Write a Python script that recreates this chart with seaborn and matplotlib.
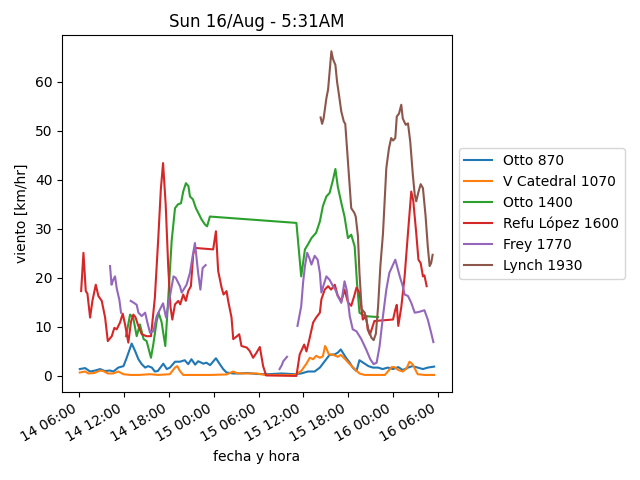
import pandas as pd
import numpy as np
import matplotlib
matplotlib.use('Agg')
import matplotlib.pyplot as plt
import matplotlib.dates as mdates
import seaborn as sns

# horas desde el 14/Aug 06:00 y viento en km/hr
inicio = pd.Timestamp('2020-08-14 06:00')

otto870_h = [0.05, 0.76, 1.43, 2.1, 2.77, 3.4, 4.1, 4.55, 5.2, 5.9, 6.33, 7.0, 7.45, 7.9, 8.34, 8.8,
             9.2, 9.7, 10.1, 10.5, 11.23, 11.7, 12.13, 12.8, 13.46, 14.1, 14.57, 15.0, 15.5, 15.9, 16.6,
             17.0, 17.5, 18.28, 18.8, 19.25, 19.7, 20.6, 21.5, 22.5, 23.7, 25.3, 27.1, 28.8, 29.7, 30.6,
             31.5, 32.2, 32.85, 33.5, 34.2, 34.6, 35.0, 35.7, 36.2, 36.6, 37.1, 37.5, 38.0, 38.7, 39.3,
             40.0, 40.6, 41.3, 42.0, 42.7, 43.3, 44.0, 44.6, 45.3, 46.0, 46.65, 47.5]
otto870_v = [1.4, 1.6, 0.9, 1.1, 1.4, 1.0, 1.1, 0.9, 1.7, 2.0, 3.7, 6.6, 5.1, 3.4, 2.4, 1.7,
             2.0, 1.7, 0.9, 1.0, 2.5, 1.4, 1.7, 2.9, 2.9, 3.2, 2.4, 3.4, 2.3, 3.0, 2.5,
             2.7, 2.2, 3.6, 2.4, 1.4, 0.7, 0.5, 0.5, 0.6, 0.4, 0.35, 0.5, 0.35, 0.5, 0.9,
             0.9, 1.7, 3.0, 4.3, 4.4, 4.75, 5.4, 3.7, 2.7, 1.7, 1.0, 3.2, 2.7, 2.0, 1.7,
             1.7, 1.4, 1.7, 1.4, 1.8, 1.2, 1.7, 2.0, 1.7, 1.4, 1.7, 1.9]

catedral_h = [0.05, 0.76, 1.2, 2.0, 2.77, 3.2, 3.8, 4.5, 5.2, 5.9, 6.8, 8.0, 9.45, 10.5, 12.1, 12.8,
              13.1, 13.46, 13.9, 15.5, 17.5, 19.7, 20.6, 21.0, 21.9, 23.7, 24.9, 27.0, 28.8, 29.7,
              30.4, 30.85, 31.3, 31.7, 32.2, 32.6, 32.9, 33.1, 33.4, 34.0, 34.6, 35.0, 35.6, 36.2,
              36.86, 37.5, 38.2, 40.9, 41.3, 41.8, 42.2, 42.7, 43.3, 43.8, 44.2, 44.6, 45.3, 46.2, 47.5]
catedral_v = [0.7, 0.9, 0.5, 0.6, 1.1, 1.0, 0.5, 0.5, 0.9, 0.35, 0.2, 0.2, 0.35, 0.2, 0.35, 1.7,
              2.0, 1.0, 0.2, 0.2, 0.2, 0.3, 0.9, 0.6, 0.5, 0.5, 0.2, 0.2, 0.2, 1.0,
              2.5, 3.7, 3.4, 4.1, 3.7, 4.0, 6.1, 5.5, 4.4, 4.3, 3.9, 4.3, 3.4, 2.4,
              1.4, 0.5, 0.2, 0.2, 0.9, 1.8, 1.8, 1.2, 0.9, 1.5, 2.9, 2.4, 0.35, 0.2, 0.2]

otto1400_h = [6.24, 6.78, 7.2, 7.67, 8.1, 8.6, 9.0, 9.58, 9.9, 10.35, 10.6, 11.0, 11.5, 11.9, 12.35,
              12.8, 13.2, 13.6, 13.9, 14.26, 14.6, 14.8, 15.2, 15.6, 16.0, 16.36, 16.8, 17.1, 17.47,
              29.06, 29.7, 30.2, 30.6, 31.07, 31.7, 32.2, 32.6, 33.07, 33.5, 33.96, 34.28, 34.6,
              35.07, 35.5, 35.96, 36.4, 36.86, 37.17, 37.5, 38.2, 40.0]
otto1400_v = [8.1, 12.5, 11.9, 8.1, 10.5, 7.5, 7.1, 3.7, 6.5, 11.2, 12.9, 11.0, 6.1, 15.9, 27.5,
              34.2, 35.0, 35.2, 37.6, 39.3, 38.7, 36.6, 36.0, 34.2, 33.0, 31.9, 30.9, 30.5, 32.5,
              31.2, 20.3, 25.8, 26.8, 28.1, 29.2, 31.5, 34.6, 36.6, 37.3, 40.0, 42.2, 38.6,
              35.3, 32.5, 28.1, 28.8, 26.4, 19.0, 12.9, 12.2, 12.0]

lopez_h = [0.23, 0.54, 0.85, 1.07, 1.43, 1.74, 2.19, 2.54, 2.99, 3.44, 3.8, 4.33, 4.68, 4.99, 5.44,
           5.8, 6.11, 6.55, 6.9, 7.22, 7.5, 7.89, 8.34, 9.0, 9.58, 10.1, 10.56, 10.9, 11.2, 11.55,
           11.9, 12.2, 12.44, 12.8, 13.24, 13.5, 13.9, 14.25, 14.57, 14.93, 15.24, 15.47, 17.91,
           18.28, 18.58, 19.04, 19.3, 19.7, 19.92, 20.37, 20.6, 21.1, 21.4, 21.7, 22.4, 22.8, 23.26,
           23.7, 24.16, 24.6, 25.0, 29.06, 29.5, 30.1, 30.4, 30.8, 31.3, 31.7, 32.2, 32.4, 32.85,
           33.3, 33.7, 34.2, 34.6, 35.1, 35.5, 35.96, 36.4, 36.8, 37.1, 37.5, 37.95, 38.4, 38.6,
           38.9, 39.5, 42.0, 42.3, 42.5, 42.7, 43.1, 43.55, 44.0, 44.44, 44.7, 45.1, 45.4, 45.7,
           46.0, 46.2, 46.5]
lopez_v = [17.3, 25.1, 17.3, 16.8, 11.9, 15.3, 18.6, 16.3, 15.3, 11.9, 7.1, 8.1, 9.8, 9.5, 10.9,
           12.7, 10.5, 6.8, 11.0, 12.5, 12.0, 10.2, 8.5, 8.1, 8.1, 15.9, 28.1, 38.0, 43.4, 35.0,
           22.0, 14.0, 11.5, 14.6, 15.3, 14.6, 16.6, 15.3, 17.3, 18.3, 24.8, 26.1, 25.8,
           29.5, 21.4, 18.0, 16.6, 17.3, 15.3, 11.9, 7.5, 8.1, 8.5, 6.1, 5.8, 5.1, 3.7,
           4.7, 5.9, 2.0, 0.1, 0.0, 4.4, 6.4, 5.0, 7.5, 10.9, 11.9, 12.9, 15.6, 17.6,
           18.3, 17.6, 18.6, 16.3, 15.3, 17.6, 15.0, 14.3, 16.3, 18.0, 17.0, 11.5, 12.2, 9.5,
           8.4, 11.2, 11.5, 13.5, 14.5, 10.2, 14.0, 20.3, 29.2, 37.6, 35.8, 29.2, 23.7, 23.0,
           20.3, 20.5, 18.3]

# Frey tiene huecos: cada tramo por separado
frey_h = [[4.1, 4.3, 4.5, 4.77, 5.0, 5.35, 5.57],
          [6.87, 7.3, 7.67, 7.9, 8.34, 8.8, 9.1, 9.45, 9.9, 10.35, 10.8, 11.2, 11.6, 12.13, 12.6,
           12.9, 13.46, 13.7, 14.35, 14.8, 15.16, 15.47, 15.9, 16.2, 16.5, 16.9],
          [26.8, 27.1, 27.3, 27.8],
          [29.2, 29.7, 29.95, 30.2, 30.5, 30.8, 31.07, 31.5, 31.9, 32.2, 32.4, 32.7, 33.07, 33.5,
           33.96, 34.3, 34.6, 35.07, 35.5, 35.8, 36.2, 36.6, 37.1, 37.75, 38.4, 38.95, 39.4, 39.8,
           40.2, 40.65, 41.1, 41.5, 42.0, 42.3, 42.6, 42.9, 43.3, 43.55, 44.0, 44.44, 44.9, 45.3,
           45.8, 46.2, 46.65, 47.1, 47.4]]
frey_v = [[22.4, 18.6, 19.5, 20.3, 17.8, 15.5, 12.9],
          [15.3, 14.9, 14.5, 12.9, 12.2, 12.9, 10.9, 8.8, 9.1, 12.2, 13.6, 14.8, 11.9, 16.3, 20.3,
           20.0, 18.3, 17.0, 18.6, 21.0, 24.4, 27.1, 21.0, 17.6, 22.0, 22.6],
          [1.4, 2.2, 3.0, 3.9],
          [10.2, 14.2, 19.0, 22.4, 25.1, 24.0, 22.7, 24.5, 23.7, 21.0, 17.0, 18.5, 20.3, 19.6,
           18.3, 17.5, 16.3, 14.9, 19.3, 17.5, 12.2, 9.5, 9.1, 7.5, 5.4, 3.4, 2.4, 2.7,
           6.1, 12.2, 17.6, 21.0, 22.7, 23.7, 22.0, 20.3, 18.3, 16.6, 16.3, 14.9, 12.9, 13.0,
           13.2, 13.4, 11.5, 8.8, 6.9]]

lynch_h = [32.3, 32.5, 32.7, 33.07, 33.3, 33.74, 33.96, 34.28, 34.5, 34.76, 35.07, 35.4, 35.6,
           35.96, 36.4, 36.8, 37.0, 37.3, 37.5, 37.8, 38.2, 38.7, 39.1, 39.4, 39.7, 40.0, 40.3,
           40.65, 41.1, 41.45, 41.75, 42.0, 42.3, 42.5, 42.8, 43.1, 43.3, 43.7, 44.0, 44.3, 44.65,
           44.9, 45.1, 45.4, 45.7, 46.0, 46.35, 46.65, 46.9, 47.1, 47.3]
lynch_v = [52.7, 51.4, 52.5, 56.6, 58.4, 66.2, 64.6, 63.4, 60.0, 57.3, 53.9, 51.9, 51.4,
           43.7, 34.2, 33.3, 32.5, 28.5, 21.0, 13.6, 12.9, 9.5, 7.8, 7.3, 8.6, 14.2, 22.4,
           29.0, 42.4, 46.4, 48.5, 48.0, 48.5, 52.9, 53.5, 55.3, 52.5, 51.2, 51.5, 47.8, 41.0,
           37.0, 35.6, 37.5, 39.1, 38.3, 32.7, 26.4, 22.4, 23.0, 24.7]

estaciones = ['Otto 870', 'V Catedral 1070', 'Otto 1400', 'Refu López 1600', 'Frey 1770', 'Lynch 1930']
series = {
    'Otto 870': [(otto870_h, otto870_v)],
    'V Catedral 1070': [(catedral_h, catedral_v)],
    'Otto 1400': [(otto1400_h, otto1400_v)],
    'Refu López 1600': [(lopez_h, lopez_v)],
    'Frey 1770': list(zip(frey_h, frey_v)),
    'Lynch 1930': [(lynch_h, lynch_v)],
}

filas = []
for est in estaciones:
    for i, (hs, vs) in enumerate(series[est]):
        for h, v in zip(hs, vs):
            filas.append({'estacion': est, 'tramo': est + str(i),
                          'fecha': inicio + pd.Timedelta(hours=h), 'viento': v})
df = pd.DataFrame(filas)

fig, ax = plt.subplots(figsize=(6.4, 4.8), dpi=100)
sns.lineplot(data=df, x='fecha', y='viento', hue='estacion', hue_order=estaciones,
             units='tramo', estimator=None, sort=False, palette='tab10', ax=ax)

ax.xaxis.set_major_locator(mdates.HourLocator(byhour=[0, 6, 12, 18]))
ax.xaxis.set_major_formatter(mdates.DateFormatter('%d %H:%M'))
fig.autofmt_xdate()
ax.set_title('Sun 16/Aug - 5:31AM')
ax.set_xlabel('fecha y hora')
ax.set_ylabel('viento [km/hr]')
sns.move_legend(ax, 'center left', bbox_to_anchor=(1, 0.5), title=None)

fig.subplots_adjust(left=0.097, right=0.706, bottom=0.183, top=0.927)
plt.savefig('out.png')
